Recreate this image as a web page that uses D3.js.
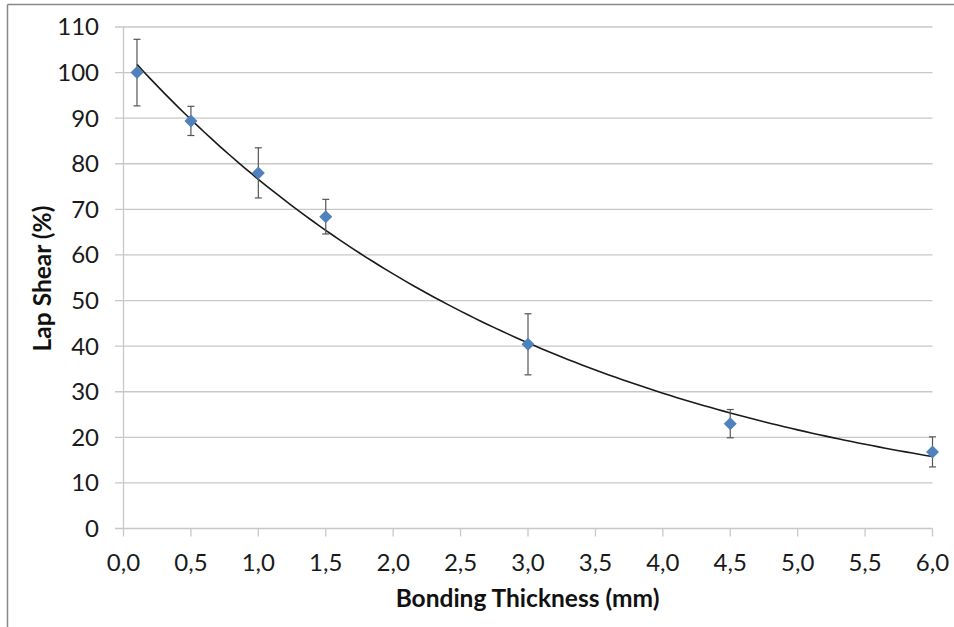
<!DOCTYPE html>
<html>
<head>
<meta charset="utf-8">
<script src="https://cdn.jsdelivr.net/npm/d3@7"></script>
<style>
  body { margin: 0; background: #fff; }
  svg { display: block; font-family: Lato, "Open Sans", sans-serif; }
</style>
</head>
<body>
<svg id="chart" width="954" height="627"></svg>
<script>
// Data
const thickness = [0.1, 0.5, 1.0, 1.5, 3.0, 4.5, 6.0];
const lapShear = [100, 89.4, 78.0, 68.4, 40.4, 23.0, 16.8];
const errors = [7.3, 3.2, 5.5, 3.8, 6.7, 3.1, 3.3];
const xTicks = [0, 0.5, 1, 1.5, 2, 2.5, 3, 3.5, 4, 4.5, 5, 5.5, 6];
const yTicks = [0, 10, 20, 30, 40, 50, 60, 70, 80, 90, 100, 110];

const svg = d3.select('#chart');

// Outer frame (top and left edges visible)
svg.append('line').attr('x1', 7.5).attr('x2', 954).attr('y1', 4.5).attr('y2', 4.5)
  .attr('stroke', '#888').attr('stroke-width', 1.5);
svg.append('line').attr('x1', 7.5).attr('x2', 7.5).attr('y1', 4.5).attr('y2', 627)
  .attr('stroke', '#888').attr('stroke-width', 1.5);

// Scales
const x = d3.scaleLinear().domain([0, 6]).range([123.5, 932.5]);
const y = d3.scaleLinear().domain([0, 110]).range([528.5, 27]);

const gridColor = '#c8c8c8';

// Horizontal gridlines + left ticks
svg.append('g').selectAll('line').data(yTicks).join('line')
  .attr('x1', 115).attr('x2', x(6))
  .attr('y1', d => y(d)).attr('y2', d => y(d))
  .attr('stroke', gridColor).attr('stroke-width', 1.3);

// Vertical axis line
svg.append('line').attr('x1', x(0)).attr('x2', x(0)).attr('y1', y(110)).attr('y2', y(0))
  .attr('stroke', gridColor).attr('stroke-width', 1.3);

// X tick marks
svg.append('g').selectAll('line').data(xTicks).join('line')
  .attr('x1', d => x(d)).attr('x2', d => x(d))
  .attr('y1', y(0)).attr('y2', y(0) + 8)
  .attr('stroke', gridColor).attr('stroke-width', 1.3);

// Tick labels
const fmt = d => d3.format('.1f')(d).replace('.', ',');
svg.append('g').selectAll('text').data(xTicks).join('text')
  .attr('x', d => x(d)).attr('y', 571)
  .attr('text-anchor', 'middle')
  .attr('font-size', 24).attr('fill', '#1a1a1a')
  .text(fmt);

svg.append('g').selectAll('text').data(yTicks).join('text')
  .attr('x', 99).attr('y', d => y(d))
  .attr('dy', '0.35em')
  .attr('text-anchor', 'end')
  .attr('font-size', 24).attr('fill', '#1a1a1a')
  .text(d => d);

// Axis titles
svg.append('text')
  .attr('x', 527.5).attr('y', 607)
  .attr('text-anchor', 'middle')
  .attr('font-size', 24.5).attr('font-weight', 'bold').attr('fill', '#111')
  .text('Bonding Thickness (mm)');

svg.append('text')
  .attr('transform', 'translate(51,278.5) rotate(-90)')
  .attr('text-anchor', 'middle')
  .attr('font-size', 24.5).attr('font-weight', 'bold').attr('fill', '#111')
  .text('Lap Shear (%)');

// Exponential trendline (least squares on ln y, like a spreadsheet trendline)
const lnY = lapShear.map(Math.log);
const mx = d3.mean(thickness), my = d3.mean(lnY);
const b = d3.sum(thickness, (t, i) => (t - mx) * (lnY[i] - my)) /
          d3.sum(thickness, t => (t - mx) * (t - mx));
const a = Math.exp(my - b * mx);
const trendX = d3.range(thickness[0], thickness[thickness.length - 1] + 0.001, 0.05);
svg.append('path')
  .datum(trendX)
  .attr('fill', 'none').attr('stroke', '#1a1a1a').attr('stroke-width', 1.6)
  .attr('d', d3.line().x(t => x(t)).y(t => y(a * Math.exp(b * t))));

// Error bars
const pts = thickness.map((t, i) => ({ t, v: lapShear[i], e: errors[i] }));
const eb = svg.append('g').attr('stroke', '#555').attr('stroke-width', 1.2);
eb.selectAll('.stem').data(pts).join('line')
  .attr('x1', d => x(d.t)).attr('x2', d => x(d.t))
  .attr('y1', d => y(d.v + d.e)).attr('y2', d => y(d.v - d.e));
eb.selectAll('.capTop').data(pts).join('line')
  .attr('x1', d => x(d.t) - 3.5).attr('x2', d => x(d.t) + 3.5)
  .attr('y1', d => y(d.v + d.e)).attr('y2', d => y(d.v + d.e));
eb.selectAll('.capBot').data(pts).join('line')
  .attr('x1', d => x(d.t) - 3.5).attr('x2', d => x(d.t) + 3.5)
  .attr('y1', d => y(d.v - d.e)).attr('y2', d => y(d.v - d.e));

// Diamond markers
svg.append('g').selectAll('path').data(pts).join('path')
  .attr('transform', d => `translate(${x(d.t)},${y(d.v)})`)
  .attr('d', 'M0,-6.5L6.5,0L0,6.5L-6.5,0Z')
  .attr('fill', '#4f81bd');
</script>
</body>
</html>
